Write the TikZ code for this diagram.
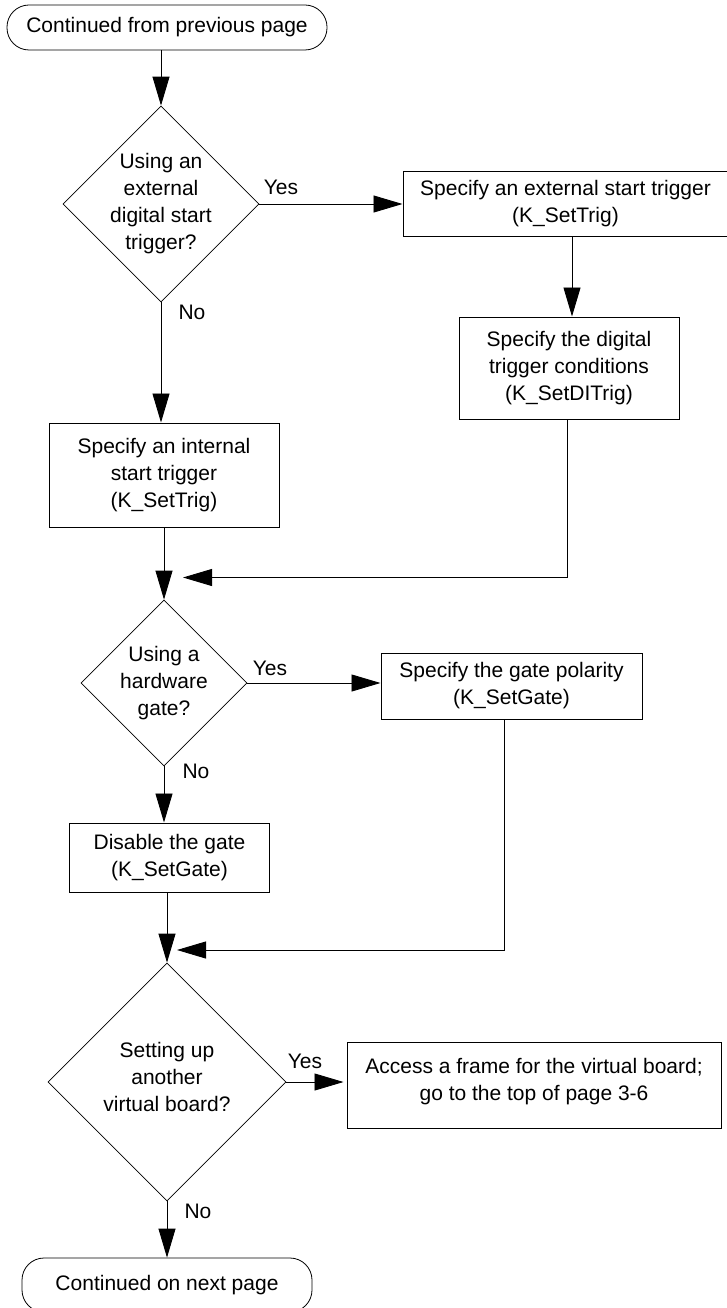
\documentclass[tikz,border=0pt]{standalone}
\usepackage{fontspec}
\setmainfont{Liberation Sans}
\usetikzlibrary{shapes.geometric,arrows.meta}
\begin{document}
\begin{tikzpicture}[x=1pt,y=-1pt,
  every node/.style={font=\fontsize{21}{27}\selectfont},
  box/.style={draw, line width=1pt, align=center, inner sep=0pt},
  decision/.style={draw, diamond, line width=0.8pt, align=center, inner sep=-40pt},
  terminal/.style={draw, line width=0.8pt, rounded corners=22pt, inner sep=0pt},
  arr/.style={line width=0.9pt, -{Triangle[length=29pt,width=17pt]}},
  lbl/.style={inner sep=0pt}]
\useasboundingbox (0,0) rectangle (727,1308);

% shapes
\node[terminal, minimum width=320pt, minimum height=45pt] (start) at (167,27.5) {Continued from previous page};
\node[decision, minimum width=196pt, minimum height=196pt] (d1) at (161,204) {Using an\\external\\digital start\\trigger?};
\node[box, minimum width=325pt, minimum height=64pt] (ext) at (565.5,204) {Specify an external start trigger\\(K\_SetTrig)};
\node[box, minimum width=220pt, minimum height=102pt] (dig) at (569,368) {Specify the digital\\trigger conditions\\(K\_SetDITrig)};
\node[box, minimum width=230pt, minimum height=104pt] (int) at (164,475) {Specify an internal\\start trigger\\(K\_SetTrig)};
\node[decision, minimum width=166pt, minimum height=166pt] (d2) at (164,683) {Using a\\hardware\\gate?};
\node[box, minimum width=261pt, minimum height=66pt] (pol) at (511.5,686) {Specify the gate polarity\\(K\_SetGate)};
\node[box, minimum width=200pt, minimum height=69pt] (dis) at (169.5,857.5) {Disable the gate\\(K\_SetGate)};
\node[decision, minimum width=238pt, minimum height=238pt, text depth=10pt] (d3) at (167,1082) {Setting up\\another\\virtual board?};
\node[box, minimum width=374pt, minimum height=86pt, text depth=11pt] (acc) at (534,1085) {Access a frame for the virtual board;\\go to the top of page 3-6};
\node[terminal, minimum width=290pt, minimum height=54pt] (stop) at (167,1285) {Continued on next page};

% branch labels
\node[lbl] (y1) at (281,187) {Yes};
\node[lbl] (n1) at (192,312) {No};
\node[lbl] (y2) at (270,668) {Yes};
\node[lbl] (n2) at (196,771) {No};
\node[lbl] (y3) at (305,1061) {Yes};
\node[lbl] (n3) at (198,1211) {No};

% merge points
\coordinate (m1) at (183,577.5);
\coordinate (m2) at (177,950);

% connectors
\draw[arr] (start.south -| d1.north) -- (d1.north);
\draw[arr] (d1.east) -- (ext.west);
\draw[arr] ([xshift=3pt]dig.north |- ext.south) -- ([xshift=3pt]dig.north);
\draw[arr] (d1.south) -- (d1.south |- int.north);
\draw[arr] ([xshift=-2pt]dig.south) |- (m1);
\draw[arr] (int.south) -- (d2.north);
\draw[arr] (d2.east) -- (d2.east -| pol.west);
\draw[arr] (d2.south) -- (d2.south |- dis.north);
\draw[arr] ([xshift=-7.5pt]pol.south) |- (m2);
\draw[arr] (dis.south -| d3.north) -- (d3.north);
\draw[arr, shorten >=3pt] (d3.east) -- (d3.east -| acc.west);
\draw[arr] (d3.south) -- (stop.north);
\end{tikzpicture}
\end{document}
